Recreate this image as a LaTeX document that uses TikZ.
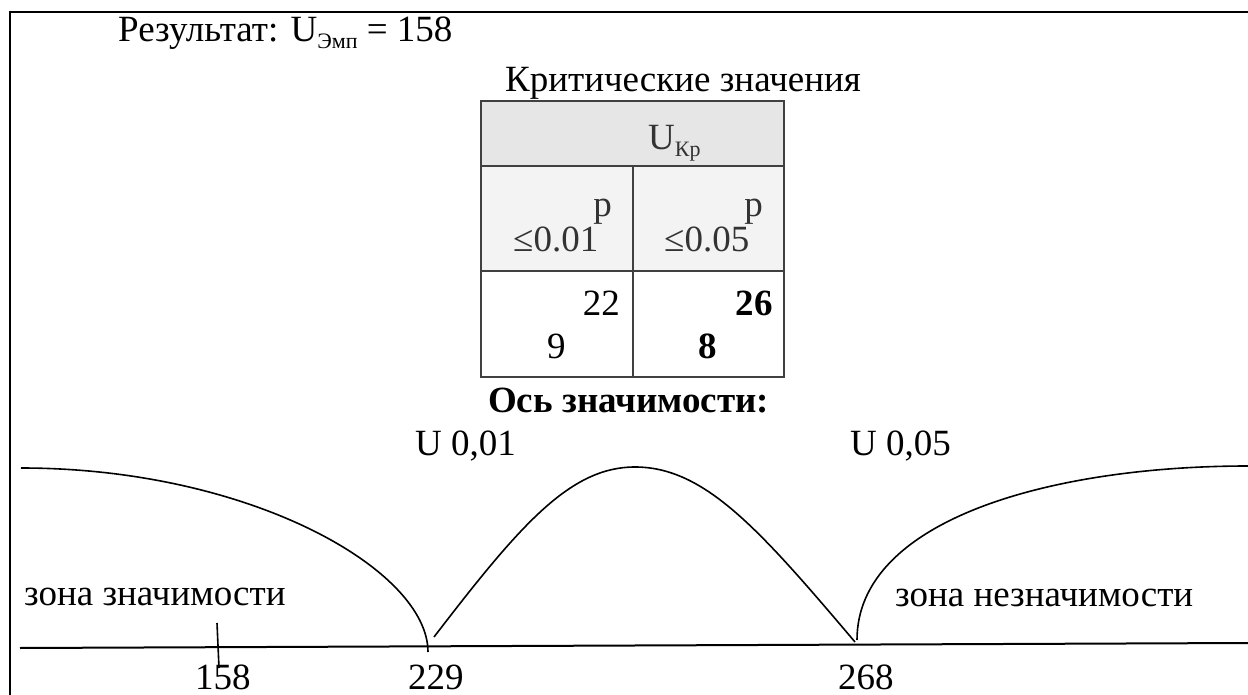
\documentclass[tikz,border=0pt]{standalone}
\usepackage{fontspec}
\setmainfont{Liberation Serif}
\definecolor{hdrfill}{HTML}{E6E6E6}
\definecolor{rowfill}{HTML}{F3F3F3}
\definecolor{tblline}{HTML}{404040}
\definecolor{tbltext}{HTML}{333333}
\newcommand\mysub[1]{\raisebox{-0.18em}{\fontsize{22}{22}\selectfont #1}}
\begin{document}
\begin{tikzpicture}[x=1pt,y=-1pt,
  txt/.style={inner sep=0pt, font=\fontsize{37}{44}\selectfont},
  bw/.style={txt, anchor=base west},
  be/.style={txt, anchor=base east},
  bc/.style={txt, anchor=base},
  bold/.style={font=\fontsize{37}{44}\selectfont\bfseries},
  tbl/.style={draw=tblline, line width=2.6pt},
  crv/.style={line width=1.6pt},
  frm/.style={line width=2pt}]
\useasboundingbox (0,0) rectangle (1248,695);
% frame
\draw[frm] (10,695) -- (10,12) -- (1248,12);
% texts top
\node[bw] (res) at (118,42) {Результат: U\mysub{Эмп} = 158};
\node[bc] (crit) at (683,92) {Критические значения};
% table
\fill[hdrfill] (481,101) rectangle (784,166);
\fill[rowfill] (481,166) rectangle (784,271);
\draw[tbl] (481,101) rectangle (784,377);
\draw[tbl] (481,166) -- (784,166);
\draw[tbl] (481,271) -- (784,271);
\draw[tbl] (633,166) -- (633,377);
\node[bw, text=tbltext] (ukp) at (648,150) {U\mysub{Кр}};
\node[be, text=tbltext] (p1) at (612,217) {p};
\node[bw, text=tbltext] (le1) at (513,252) {≤0.01};
\node[be, text=tbltext] (p2) at (763,217) {p};
\node[bw, text=tbltext] (le2) at (664,252) {≤0.05};
\node[be] (n22) at (620,315) {22};
\node[bw] (n9) at (547,358) {9};
\node[be, bold] (n26) at (773,315) {26};
\node[bw, bold] (n8) at (698,358) {8};
% axis title
\node[bw, bold] (axt) at (488,412) {Ось значимости:};
\node[bw] (u1) at (415,455) {U 0,01};
\node[bw] (u5) at (850,455) {U 0,05};
% curves
\draw[crv] (21,468) .. controls (250,468) and (428,570) .. (428,652);
\draw[crv] (434,637) .. controls (520,525) and (570,467) .. (635,467)
   .. controls (705,467) and (760,530) .. (855,642);
\draw[crv] (857,640) .. controls (857,520) and (1050,466) .. (1248,466);
% axis
\draw[frm] (20,648) -- (1248,643);
\draw[crv] (217,623) -- (219,668);
% zone labels
\node[bw] (z1) at (24,605) {зона значимости};
\node[bw] (z2) at (895,606) {зона незначимости};
% numbers
\node[bw] (n158) at (195,689) {158};
\node[bw] (n229) at (408,689) {229};
\node[bw] (n268) at (838,689) {268};
\end{tikzpicture}
\end{document}
